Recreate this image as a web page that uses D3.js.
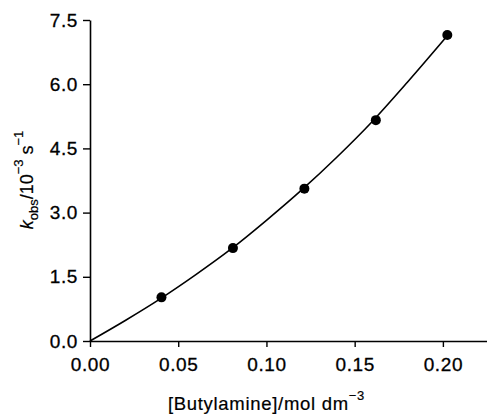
<!DOCTYPE html>
<html>
<head>
<meta charset="utf-8">
<script src="https://cdn.jsdelivr.net/npm/d3@7"></script>
<style>
  body { margin: 0; background: #fff; }
  svg { display: block; }
  text { font-family: "Liberation Sans", Arial, sans-serif; fill: #000; }
</style>
</head>
<body>
<div id="chart"></div>
<script>
// measured points
var amine = [0.0405, 0.081, 0.1215, 0.162, 0.2025];
var kobs = [1.02, 2.17, 3.56, 5.16, 7.15];

// fitted curve
var fitX = [0, 0.02, 0.04, 0.06, 0.08, 0.10, 0.12, 0.14, 0.16, 0.18, 0.2025];
var fitY = [0, 0.48, 0.99, 1.55, 2.15, 2.82, 3.53, 4.30, 5.13, 6.05, 7.13];

var xTicks = [0, 0.05, 0.10, 0.15, 0.20];
var yTicks = [0, 1.5, 3.0, 4.5, 6.0, 7.5];

var width = 487, height = 415;
var margin = {left: 90, right: 0, top: 20, bottom: 74};

var svg = d3.select("#chart").append("svg")
    .attr("width", width)
    .attr("height", height);

var xscale = d3.scaleLinear().domain([0, 0.225]).range([margin.left, width - margin.right]);
var yscale = d3.scaleLinear().domain([0, 7.5]).range([height - margin.bottom, margin.top]);

// x axis
var xAxis = d3.axisBottom(xscale)
    .tickValues(xTicks)
    .tickSize(6)
    .tickPadding(10)
    .tickSizeOuter(0)
    .tickFormat(d3.format(".2f"));
var gx = svg.append("g")
    .attr("transform", "translate(0," + yscale(0) + ")")
    .call(xAxis);
gx.select(".domain").attr("stroke-width", 1.6);
gx.selectAll(".tick line").attr("stroke-width", 1.4);
gx.selectAll(".tick text").attr("font-size", 19).attr("dy", "0.72em")
    .attr("letter-spacing", 0.6).attr("stroke", "#000").attr("stroke-width", 0.3);

// y axis
var yAxis = d3.axisLeft(yscale)
    .tickValues(yTicks)
    .tickSize(7)
    .tickPadding(5)
    .tickSizeOuter(0)
    .tickFormat(d3.format(".1f"));
var gy = svg.append("g")
    .attr("transform", "translate(" + xscale(0) + ",0)")
    .call(yAxis);
gy.select(".domain").attr("stroke-width", 1.6);
gy.selectAll(".tick line").attr("stroke-width", 1.4);
gy.selectAll(".tick text").attr("font-size", 19)
    .attr("letter-spacing", 0.6).attr("stroke", "#000").attr("stroke-width", 0.3);
svg.selectAll(".domain, .tick line").attr("stroke", "#000");

// fitted line
var fit = fitX.map(function(d, i) { return [d, fitY[i]]; });
var line = d3.line()
    .x(function(d) { return xscale(d[0]); })
    .y(function(d) { return yscale(d[1]); })
    .curve(d3.curveMonotoneX);
svg.append("path")
    .datum(fit)
    .attr("d", line)
    .attr("fill", "none")
    .attr("stroke", "#000")
    .attr("stroke-width", 1.6);

// points
svg.selectAll(".dot")
    .data(amine)
    .enter().append("circle")
    .attr("class", "dot")
    .attr("cx", function(d) { return xscale(d); })
    .attr("cy", function(d, i) { return yscale(kobs[i]); })
    .attr("r", 5)
    .attr("fill", "#000");

// x label, centred under the tick range
var xl = svg.append("text")
    .attr("x", (xscale(0) + xscale(0.2)) / 2)
    .attr("y", 410)
    .attr("text-anchor", "middle")
    .attr("font-size", 18.5)
    .attr("letter-spacing", 0.7)
    .attr("stroke", "#000").attr("stroke-width", 0.2);
xl.append("tspan").text("[Butylamine]/mol dm");
xl.append("tspan").attr("dy", -10).attr("font-size", 13).text("\u22123");

// y label
var yl = svg.append("text")
    .attr("transform", "translate(33," + 180 + ") rotate(-90)")
    .attr("text-anchor", "middle")
    .attr("font-size", 18)
    .attr("stroke", "#000").attr("stroke-width", 0.2);
yl.append("tspan").attr("font-style", "italic").text("k");
yl.append("tspan").attr("dy", 5).attr("font-size", 13).text("obs");
yl.append("tspan").attr("dy", -5).text("/10");
yl.append("tspan").attr("dy", -10).attr("font-size", 13).text("\u22123");
yl.append("tspan").attr("dy", 10).text(" s");
yl.append("tspan").attr("dy", -10).attr("font-size", 13).text("\u22121");
</script>
</body>
</html>
